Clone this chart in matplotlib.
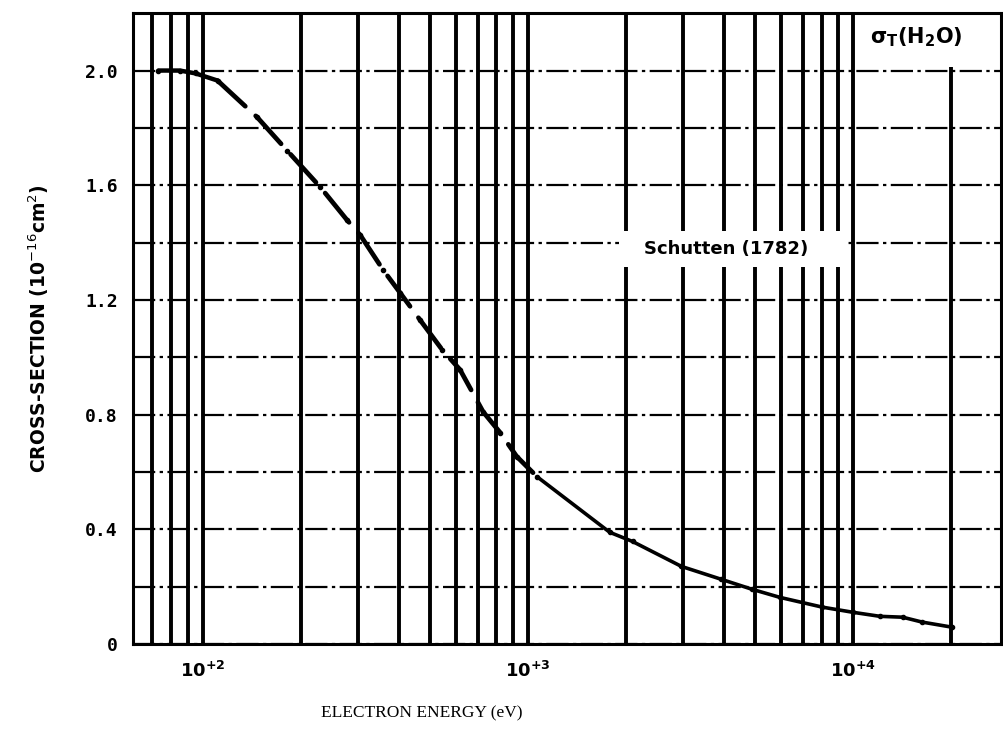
import math
import matplotlib
matplotlib.use("Agg")
import matplotlib.pyplot as plt
from matplotlib.ticker import LogLocator, MultipleLocator, FuncFormatter, NullFormatter
from matplotlib.patches import Rectangle

# ---- data ----
energy_eV = [73, 85, 95, 111, 147, 182, 230, 278, 305, 359, 405, 466, 545, 618,
             728, 822, 924, 1066, 1785, 2097, 2966, 3935, 4900, 5960, 8050,
             10000, 12100, 14200, 16300, 20200]
sigma = [2.00, 2.00, 1.99, 1.965, 1.837, 1.72, 1.593, 1.478, 1.426, 1.304,
         1.224, 1.13, 1.026, 0.957, 0.81, 0.737, 0.654, 0.584, 0.39, 0.358,
         0.271, 0.226, 0.191, 0.163, 0.129, 0.111, 0.097, 0.094, 0.077, 0.059]
x_limits = (61, 28500)
y_limits = (0, 2.2)
y_tick_step = 0.4
y_grid_step = 0.2
series_label = "Schutten (1782)"
panel_label = r"$\mathbf{\sigma_T(H_2O)}$"
x_label = "ELECTRON ENERGY (eV)"
y_label = r"CROSS-SECTION (10$^{-16}$cm$^{2}$)"

fig = plt.figure(figsize=(10.04, 7.32), dpi=100)
ax = fig.add_axes([0.1325, 0.120, 0.8645, 0.862])
ax.set_xscale("log")
ax.set_xlim(*x_limits)
ax.set_ylim(*y_limits)

# ticks
ax.xaxis.set_major_locator(LogLocator(base=10, numticks=10))
ax.xaxis.set_minor_locator(LogLocator(base=10, subs=range(2, 10), numticks=20))
ax.xaxis.set_minor_formatter(NullFormatter())
ax.xaxis.set_major_formatter(FuncFormatter(
    lambda v, p: r"$\mathbf{10^{+%d}}$" % round(math.log10(v))))
ax.yaxis.set_major_locator(MultipleLocator(y_tick_step))
ax.yaxis.set_minor_locator(MultipleLocator(y_grid_step))
ax.yaxis.set_major_formatter(FuncFormatter(lambda v, p: "0" if abs(v) < 1e-9 else "%.1f" % v))
ax.tick_params(which="both", length=0)
ax.tick_params(axis="y", pad=11)
ax.tick_params(axis="x", pad=12)
for lab in ax.get_yticklabels():
    lab.set_fontfamily("DejaVu Sans Mono")
    lab.set_fontweight("bold")
    lab.set_fontsize(13)
for lab in ax.get_xticklabels():
    lab.set_fontsize(13)

# grid
ax.grid(axis="x", which="both", color="black", linewidth=2.8, linestyle="-", zorder=1)
ax.grid(axis="y", which="both", color="black", linewidth=1.6,
        linestyle=(0, (10, 2, 1.5, 2)), zorder=1)
ax.set_axisbelow(True)

# masks behind labels (grid interrupted in reference)
ax.add_patch(Rectangle((1.9e3, 1.315), 9.6e3 - 1.9e3, 0.125,
                       facecolor="white", edgecolor="none", zorder=1.5))
ax.add_patch(Rectangle((1.15e4, 2.012), x_limits[1] - 1.15e4, y_limits[1] - 2.012,
                       facecolor="white", edgecolor="none", zorder=1.5))

# curve: solid start, dashed middle, solid tail
i_a = energy_eV.index(111)
i_b = energy_eV.index(1066)
ax.plot(energy_eV[:i_a + 1], sigma[:i_a + 1], color="black", lw=3.2,
        solid_capstyle="round", zorder=3)
ax.plot(energy_eV[i_a:i_b + 1], sigma[i_a:i_b + 1], color="black", lw=3.4,
        linestyle=(0, (8, 3)), dash_capstyle="round", zorder=3)
ax.plot(energy_eV[i_b:], sigma[i_b:], color="black", lw=2.6,
        solid_capstyle="round", zorder=3)
ax.plot(energy_eV, sigma, linestyle="none", marker="o", markersize=3,
        color="black", zorder=3)

# labels
ax.text(4080, 1.378, series_label, ha="center", va="center",
        fontsize=13, fontweight="bold", family="DejaVu Sans", zorder=4)
ax.text(15600, 2.115, panel_label, ha="center", va="center",
        fontsize=15, zorder=4)

ax.set_xlabel(x_label, fontsize=12.5, family="Liberation Serif")
ax.xaxis.set_label_coords(0.333, -0.097)
ax.set_ylabel(y_label, fontsize=13.5, fontweight="bold", family="DejaVu Sans")
ax.yaxis.set_label_coords(-0.094, 0.5)

for s in ax.spines.values():
    s.set_linewidth(2.2)
    s.set_zorder(5)

fig.savefig("out.png", dpi=100)
